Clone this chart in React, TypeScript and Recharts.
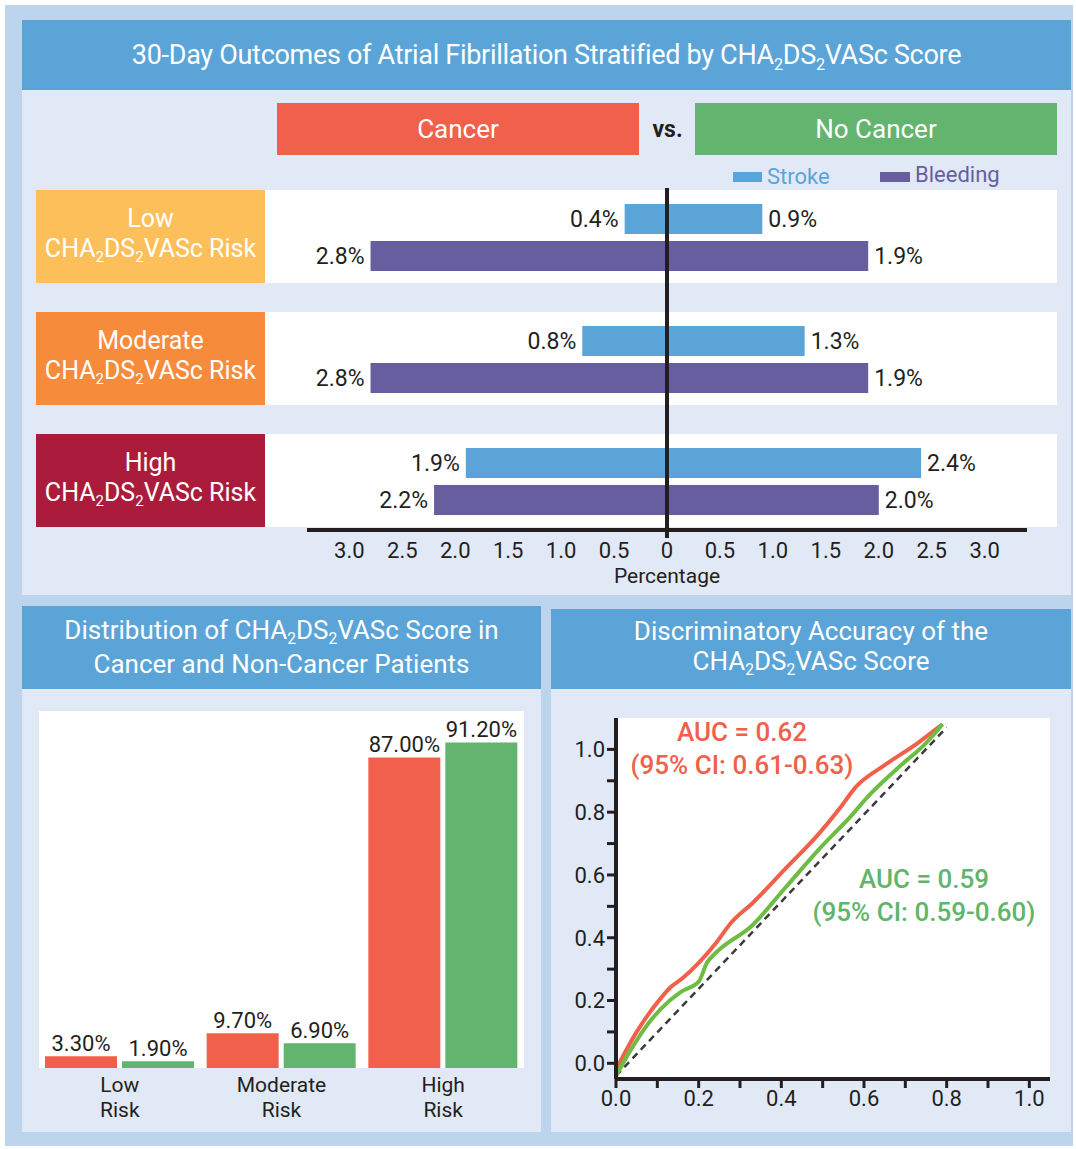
import React from 'react';
import {
  BarChart, Bar, LineChart, Line, XAxis, YAxis, CartesianGrid, ReferenceLine, LabelList,
} from 'recharts';

// top panel: 30-day outcomes (%)
const riskRows = ['Low', 'Moderate', 'High'];
const strokeCancer = [0.4, 0.8, 1.9];
const strokeNoCancer = [0.9, 1.3, 2.4];
const bleedCancer = [2.8, 2.8, 2.2];
const bleedNoCancer = [1.9, 1.9, 2.0];
const outcomeTicks = [-3, -2.5, -2, -1.5, -1, -0.5, 0, 0.5, 1, 1.5, 2, 2.5, 3];

// bottom left: distribution of score (%)
const distCategories = ['Low Risk', 'Moderate Risk', 'High Risk'];
const distCancer = [3.3, 9.7, 87.0];
const distNoCancer = [1.9, 6.9, 91.2];

// bottom right: ROC curves
const rocCancerFpr = [0, 0.05, 0.11, 0.13, 0.16, 0.2, 0.24, 0.28, 0.33, 0.41, 0.49, 0.54, 0.58, 0.65, 0.73, 0.78, 0.79];
const rocCancerTpr = [-0.02, 0.1, 0.21, 0.24, 0.27, 0.32, 0.38, 0.45, 0.51, 0.62, 0.73, 0.81, 0.88, 0.95, 1.02, 1.07, 1.08];
const rocNoCancerFpr = [0, 0.03, 0.08, 0.13, 0.16, 0.2, 0.22, 0.24, 0.33, 0.41, 0.49, 0.57, 0.61, 0.69, 0.75, 0.79];
const rocNoCancerTpr = [-0.04, 0.03, 0.13, 0.2, 0.23, 0.26, 0.32, 0.35, 0.44, 0.56, 0.68, 0.79, 0.85, 0.95, 1.02, 1.08];
const chanceFpr = [0, 0.8];
const chanceTpr = [-0.04, 1.07];
const rocTicks = [0, 0.1, 0.2, 0.3, 0.4, 0.5, 0.6, 0.7, 0.8, 0.9, 1.0];

const RED = '#f0604a';
const GREEN = '#62b46e';
const LINE_GREEN = '#6dbd45';
const BLUE = '#5ba4d7';
const PURPLE = '#675ea0';
const PANEL = '#e1e9f6';
const FRAME = '#bcd5ec';
const INK = '#231f20';
const FONT = 'Roboto, "Noto Sans", sans-serif';

const outcomeData = riskRows.map((risk, i) => ({
  risk,
  strokeCancer: -strokeCancer[i],
  strokeNoCancer: strokeNoCancer[i],
  bleedCancer: -bleedCancer[i],
  bleedNoCancer: bleedNoCancer[i],
}));

const distData = distCategories.map((name, i) => ({
  name,
  cancer: distCancer[i],
  noCancer: distNoCancer[i],
}));

const cancerRoc = rocCancerFpr.map((x, i) => ({ x, y: rocCancerTpr[i] }));
const noCancerRoc = rocNoCancerFpr.map((x, i) => ({ x, y: rocNoCancerTpr[i] }));
const chanceRoc = chanceFpr.map((x, i) => ({ x, y: chanceTpr[i] }));

const Sub = () => (
  <span style={{ fontSize: '0.6em', position: 'relative', top: '0.35em' }}>2</span>
);
const Cha = () => (
  <>CHA<Sub />DS<Sub />VASc</>
);

const box = (left: number, top: number, width: number, height: number, bg: string): React.CSSProperties => ({
  position: 'absolute', left, top, width, height, background: bg,
});

const pct = (v: any) => Math.abs(Number(v)).toFixed(1) + '%';

const OutcomeTick = (props: any) => {
  const { x, y, payload } = props;
  const v = payload.value;
  return (
    <g>
      {v === 0 && <line x1={x} x2={x} y1={y - 12} y2={y} stroke={INK} strokeWidth={4} />}
      <text x={x} y={y} dy="0.9em" textAnchor="middle" fontSize={22} fill={INK} fontFamily={FONT}>
        {v === 0 ? '0' : Math.abs(v).toFixed(1)}
      </text>
    </g>
  );
};

const DistTick = (props: any) => {
  const { x, y, payload } = props;
  const [a, b] = String(payload.value).split(' ');
  return (
    <text x={x} y={y} textAnchor="middle" fontSize={21} fill={INK} fontFamily={FONT}>
      <tspan x={x} dy="0.75em">{a}</tspan>
      <tspan x={x} dy="1.2em">{b}</tspan>
    </text>
  );
};

const rocLabel = (v: any) => {
  const n = Math.round(Number(v) * 10);
  return n % 2 === 0 ? Number(v).toFixed(1) : '';
};

const rowTops = [190, 312, 434];
const rowColors = ['#fdbf5a', '#f68b3c', '#ab1c3c'];

export default function App() {
  return (
    <div style={{ position: 'absolute', left: 0, top: 0, width: 1076, height: 1149, background: '#fff', fontFamily: FONT, color: INK }}>
      <div style={box(5, 5, 1068, 1141, FRAME)} />

      {/* top panel */}
      <div style={box(22, 20, 1049, 575, PANEL)} />
      <div style={{ ...box(22, 20, 1049, 70, BLUE), color: '#fff', fontSize: 27, display: 'flex', alignItems: 'center', justifyContent: 'center', letterSpacing: -0.3 }}>
        <span>30-Day Outcomes of Atrial Fibrillation Stratified by <Cha /> Score</span>
      </div>
      <div style={{ ...box(277, 103, 362, 52, RED), color: '#fff', fontSize: 26, display: 'flex', alignItems: 'center', justifyContent: 'center' }}>Cancer</div>
      <div style={{ position: 'absolute', left: 640, top: 103, width: 55, height: 52, display: 'flex', alignItems: 'center', justifyContent: 'center', fontSize: 23, fontWeight: 700 }}>vs.</div>
      <div style={{ ...box(695, 103, 362, 52, GREEN), color: '#fff', fontSize: 26, display: 'flex', alignItems: 'center', justifyContent: 'center' }}>No Cancer</div>

      <div style={box(733, 172, 29, 10, BLUE)} />
      <div style={{ position: 'absolute', left: 767, top: 163, fontSize: 22, color: BLUE, lineHeight: '28px' }}>Stroke</div>
      <div style={box(880, 172, 30, 10, PURPLE)} />
      <div style={{ position: 'absolute', left: 915, top: 161, fontSize: 22, color: PURPLE, lineHeight: '28px' }}>Bleeding</div>

      {rowTops.map((t, i) => (
        <React.Fragment key={riskRows[i]}>
          <div style={box(265, t, 792, 93, '#fff')} />
          <div style={{ ...box(36, t, 229, 93, rowColors[i]), color: '#fff', fontSize: 25, lineHeight: '30px', display: 'flex', flexDirection: 'column', alignItems: 'center', justifyContent: 'center', paddingBottom: 3, boxSizing: 'border-box' }}>
            <div>{riskRows[i]}</div>
            <div><Cha /> Risk</div>
          </div>
        </React.Fragment>
      ))}

      <div style={{ position: 'absolute', left: 265, top: 150 }}>
        <BarChart
          width={800}
          height={450}
          data={outcomeData}
          layout="vertical"
          stackOffset="sign"
          barSize={30}
          barGap={7}
          margin={{ top: 38, right: 38, bottom: 40, left: 42 }}
        >
          <XAxis
            type="number"
            domain={[-3.4, 3.4]}
            ticks={outcomeTicks}
            allowDataOverflow
            axisLine={{ stroke: INK, strokeWidth: 4 }}
            tickLine={false}
            tick={<OutcomeTick />}
            height={30}
            interval={0}
          />
          <YAxis type="category" dataKey="risk" hide width={0} padding={{ top: -12, bottom: -12 }} />
          <Bar dataKey="strokeCancer" stackId="stroke" fill={BLUE} isAnimationActive={false}>
            <LabelList dataKey="strokeCancer" position="right" offset={6} formatter={pct} fontSize={23} fill={INK} fontFamily={FONT} />
          </Bar>
          <Bar dataKey="strokeNoCancer" stackId="stroke" fill={BLUE} isAnimationActive={false}>
            <LabelList dataKey="strokeNoCancer" position="right" offset={6} formatter={pct} fontSize={23} fill={INK} fontFamily={FONT} />
          </Bar>
          <Bar dataKey="bleedCancer" stackId="bleed" fill={PURPLE} isAnimationActive={false}>
            <LabelList dataKey="bleedCancer" position="right" offset={6} formatter={pct} fontSize={23} fill={INK} fontFamily={FONT} />
          </Bar>
          <Bar dataKey="bleedNoCancer" stackId="bleed" fill={PURPLE} isAnimationActive={false}>
            <LabelList dataKey="bleedNoCancer" position="right" offset={6} formatter={pct} fontSize={23} fill={INK} fontFamily={FONT} />
          </Bar>
          <ReferenceLine x={0} stroke={INK} strokeWidth={4} />
        </BarChart>
      </div>
      <div style={{ position: 'absolute', left: 567, width: 200, top: 564, textAlign: 'center', fontSize: 21 }}>Percentage</div>

      {/* bottom left panel */}
      <div style={box(22, 606, 519, 526, PANEL)} />
      <div style={{ ...box(22, 606, 519, 83, BLUE), color: '#fff', fontSize: 26, lineHeight: '30px', display: 'flex', flexDirection: 'column', alignItems: 'center', justifyContent: 'center', paddingBottom: 2, boxSizing: 'border-box' }}>
        <div>Distribution of <Cha /> Score in</div>
        <div>Cancer and Non-Cancer Patients</div>
      </div>
      <div style={{ position: 'absolute', left: 22, top: 689 }}>
        <BarChart
          width={519}
          height={443}
          data={distData}
          barSize={72}
          barGap={5}
          margin={{ top: 22, right: 17, bottom: 4, left: 17 }}
        >
          <CartesianGrid fill="#fff" horizontal={false} vertical={false} />
          <XAxis dataKey="name" axisLine={false} tickLine={false} tick={<DistTick />} height={60} interval={0} />
          <YAxis hide width={0} domain={[0, 100]} />
          <Bar dataKey="cancer" fill={RED} isAnimationActive={false}>
            <LabelList dataKey="cancer" position="top" offset={5} formatter={(v: any) => Number(v).toFixed(2) + '%'} fontSize={22} fill={INK} fontFamily={FONT} />
          </Bar>
          <Bar dataKey="noCancer" fill={GREEN} isAnimationActive={false}>
            <LabelList dataKey="noCancer" position="top" offset={5} formatter={(v: any) => Number(v).toFixed(2) + '%'} fontSize={22} fill={INK} fontFamily={FONT} />
          </Bar>
        </BarChart>
      </div>

      {/* bottom right panel */}
      <div style={box(551, 609, 520, 523, PANEL)} />
      <div style={{ ...box(551, 609, 520, 80, BLUE), color: '#fff', fontSize: 26, lineHeight: '30px', display: 'flex', flexDirection: 'column', alignItems: 'center', justifyContent: 'center', paddingBottom: 2, boxSizing: 'border-box' }}>
        <div>Discriminatory Accuracy of the</div>
        <div><Cha /> Score</div>
      </div>
      <div style={{ position: 'absolute', left: 551, top: 689 }}>
        <LineChart width={520} height={443} margin={{ top: 29, right: 21, bottom: 13, left: 0 }}>
          <CartesianGrid fill="#fff" horizontal={false} vertical={false} />
          <XAxis
            type="number"
            dataKey="x"
            domain={[0, 1.05]}
            ticks={rocTicks}
            interval={0}
            allowDataOverflow
            tickFormatter={rocLabel}
            axisLine={{ stroke: INK, strokeWidth: 4 }}
            tickLine={{ stroke: INK, strokeWidth: 3 }}
            tickSize={9}
            tick={{ fontSize: 22, fill: INK, fontFamily: FONT }}
            height={40}
          />
          <YAxis
            type="number"
            dataKey="y"
            domain={[-0.05, 1.1]}
            ticks={rocTicks}
            interval={0}
            allowDataOverflow
            tickFormatter={rocLabel}
            axisLine={{ stroke: INK, strokeWidth: 4 }}
            tickLine={{ stroke: INK, strokeWidth: 3 }}
            tickSize={9}
            tick={{ fontSize: 22, fill: INK, fontFamily: FONT }}
            width={65}
          />
          <Line data={chanceRoc} dataKey="y" type="linear" stroke="#3a3a3a" strokeWidth={2.5} strokeDasharray="7 5" dot={false} isAnimationActive={false} />
          <Line data={cancerRoc} dataKey="y" type="monotone" stroke={RED} strokeWidth={4} dot={false} isAnimationActive={false} />
          <Line data={noCancerRoc} dataKey="y" type="monotone" stroke={LINE_GREEN} strokeWidth={4} dot={false} isAnimationActive={false} />
        </LineChart>
      </div>
      <div style={{ position: 'absolute', left: 592, width: 300, top: 716, textAlign: 'center', fontSize: 26, fontWeight: 500, lineHeight: '33px', color: RED }}>
        <div>AUC = 0.62</div>
        <div>(95% CI: 0.61-0.63)</div>
      </div>
      <div style={{ position: 'absolute', left: 774, width: 300, top: 863, textAlign: 'center', fontSize: 26, fontWeight: 500, lineHeight: '33px', color: '#5fb56a' }}>
        <div>AUC = 0.59</div>
        <div>(95% CI: 0.59-0.60)</div>
      </div>
    </div>
  );
}
